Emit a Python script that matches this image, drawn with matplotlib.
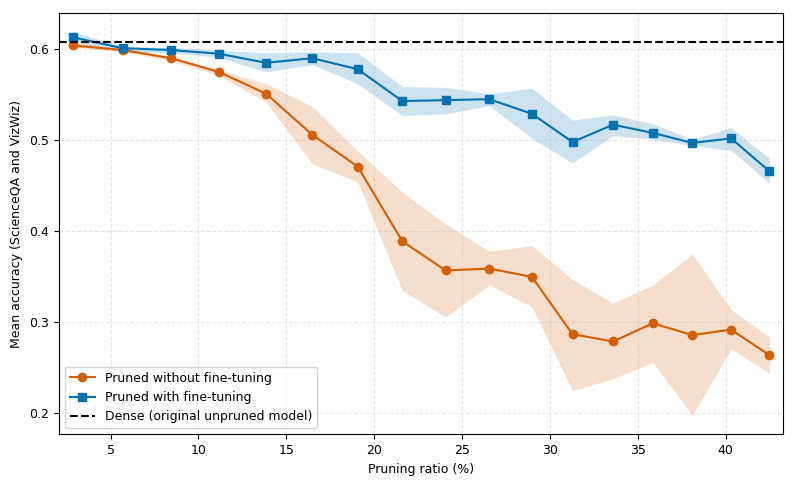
import numpy as np
import matplotlib
matplotlib.use("Agg")
import matplotlib.pyplot as plt

# pruning ratio (%)
ratio = [2.86, 5.70, 8.45, 11.16, 13.85, 16.48, 19.06, 21.60, 24.06, 26.55,
         28.97, 31.28, 33.58, 35.85, 38.10, 40.30, 42.48]

# pruned without fine-tuning
no_ft = [0.604, 0.599, 0.590, 0.575, 0.551, 0.506, 0.471, 0.389, 0.357, 0.359,
         0.350, 0.287, 0.279, 0.299, 0.286, 0.292, 0.264]
no_ft_hi = [0.607, 0.601, 0.592, 0.577, 0.562, 0.537, 0.488, 0.443, 0.408, 0.378,
            0.384, 0.347, 0.321, 0.341, 0.375, 0.314, 0.284]
no_ft_lo = [0.602, 0.597, 0.587, 0.571, 0.542, 0.474, 0.454, 0.335, 0.306, 0.341,
            0.317, 0.225, 0.238, 0.256, 0.198, 0.271, 0.244]

# pruned with fine-tuning
ft = [0.613, 0.601, 0.599, 0.595, 0.585, 0.590, 0.578, 0.543, 0.544, 0.545,
      0.529, 0.498, 0.517, 0.508, 0.497, 0.502, 0.466]
ft_hi = [0.619, 0.603, 0.602, 0.599, 0.596, 0.597, 0.596, 0.559, 0.558, 0.551,
         0.557, 0.522, 0.528, 0.518, 0.501, 0.514, 0.480]
ft_lo = [0.607, 0.597, 0.596, 0.591, 0.575, 0.583, 0.562, 0.527, 0.529, 0.538,
         0.502, 0.475, 0.505, 0.501, 0.494, 0.489, 0.453]

dense = 0.608

orange = "#D55E00"
blue = "#0072B2"

fig = plt.figure(figsize=(7.97, 4.87), dpi=100)
ax = fig.add_axes([0.0736, 0.108, 0.9094, 0.866])

ax.fill_between(ratio, no_ft_lo, no_ft_hi, color=orange, alpha=0.2, linewidth=0)
ax.fill_between(ratio, ft_lo, ft_hi, color=blue, alpha=0.2, linewidth=0)
ax.plot(ratio, no_ft, marker="o", color=orange, linewidth=1.5, markersize=6,
        label="Pruned without fine-tuning")
ax.plot(ratio, ft, marker="s", color=blue, linewidth=1.5, markersize=6,
        label="Pruned with fine-tuning")
ax.axhline(dense, color="black", linestyle="--", linewidth=1.5,
           label="Dense (original unpruned model)")

ax.set_xlim(2.05, 43.28)
ax.set_xlabel("Pruning ratio (%)", fontsize=9)
ax.set_ylabel("Mean accuracy (ScienceQA and VizWiz)", fontsize=9)
ax.tick_params(labelsize=9)
ax.grid(True, linestyle="--", alpha=0.3)
ax.legend(loc="lower left", fontsize=9)

fig.savefig("out.png", dpi=100)
